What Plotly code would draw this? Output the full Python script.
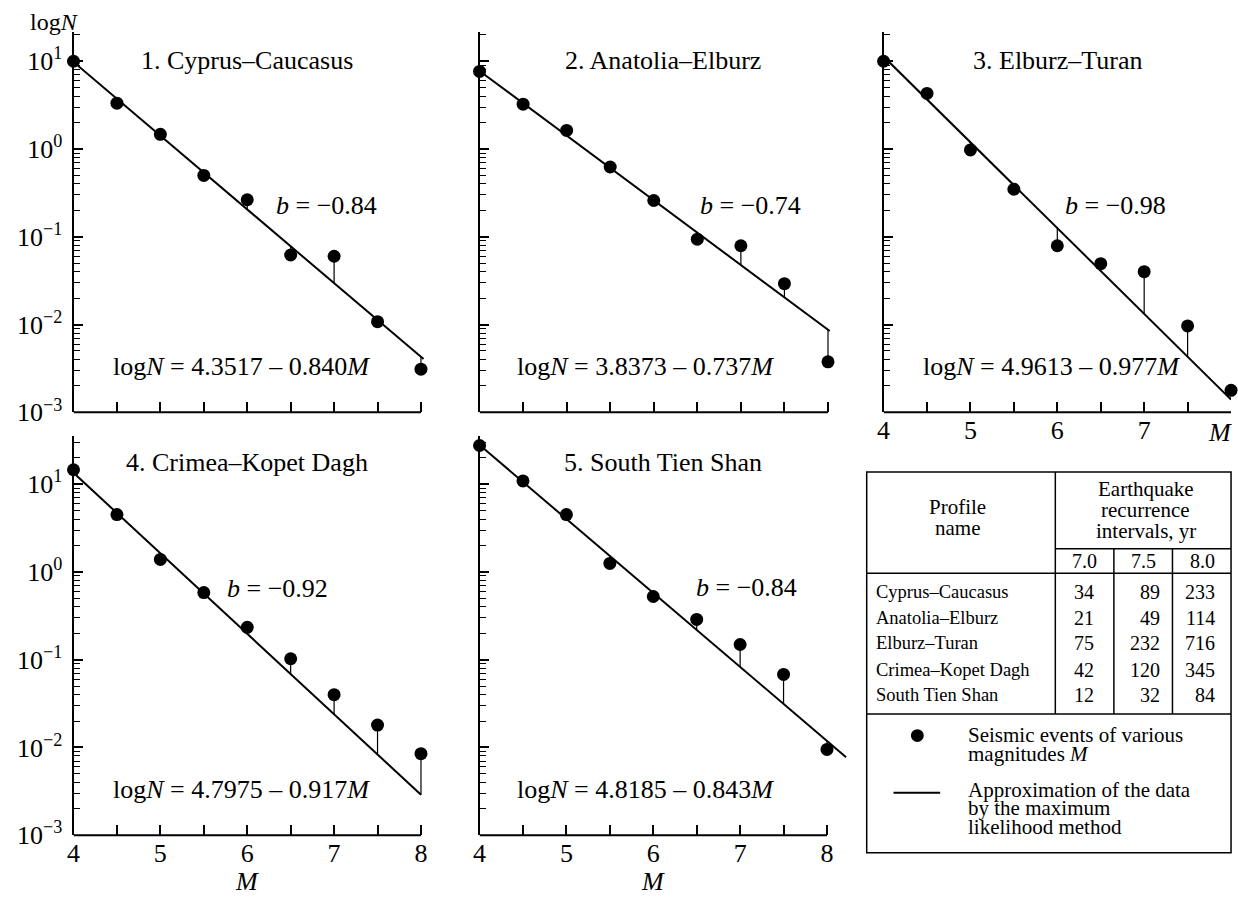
import plotly.graph_objects as go

# ---------------- data ----------------
M = [4.0, 4.5, 5.0, 5.5, 6.0, 6.5, 7.0, 7.5, 8.0]
N_cyprus_caucasus = [10.0, 3.33, 1.47, 0.50, 0.264, 0.062, 0.060, 0.0108, 0.0031]
N_anatolia_elburz = [7.66, 3.24, 1.63, 0.624, 0.259, 0.094, 0.079, 0.0292, 0.00376]
N_elburz_turan = [10.0, 4.3, 0.975, 0.348, 0.079, 0.0494, 0.040, 0.00966, 0.00178]
N_crimea_kopet_dagh = [14.6, 4.5, 1.39, 0.582, 0.234, 0.1026, 0.040, 0.0180, 0.0085]
N_south_tien_shan = [27.6, 10.9, 4.5, 1.25, 0.525, 0.288, 0.149, 0.068, 0.0095]

panel_titles = ["1. Cyprus–Caucasus", "2. Anatolia–Elburz", "3. Elburz–Turan",
                "4. Crimea–Kopet Dagh", "5. South Tien Shan"]
fit_intercept = [4.3517, 3.8373, 4.9613, 4.7975, 4.8185]
fit_slope = [0.840, 0.737, 0.977, 0.917, 0.843]
b_labels = ["−0.84", "−0.74", "−0.98", "−0.92", "−0.84"]
fit_M_end = [8.03, 8.02, 8.0, 8.0, 8.22]

y_tick_vals = [10, 1, 0.1, 0.01, 0.001]
y_tick_text = ["10<sup>1</sup>", "10<sup>0</sup>", "10<sup>−1</sup>", "10<sup>−2</sup>", "10<sup>−3</sup>"]
x_tick_vals = [4, 4.5, 5, 5.5, 6, 6.5, 7, 7.5, 8]

profiles = ["Cyprus–Caucasus", "Anatolia–Elburz", "Elburz–Turan", "Crimea–Kopet Dagh", "South Tien Shan"]
mag_columns = ["7.0", "7.5", "8.0"]
T_70 = [34, 21, 75, 42, 12]
T_75 = [89, 49, 232, 120, 32]
T_80 = [233, 114, 716, 345, 84]

series = [N_cyprus_caucasus, N_anatolia_elburz, N_elburz_turan, N_crimea_kopet_dagh, N_south_tien_shan]

# ---------------- layout helpers ----------------
W, H = 1238, 905
FONT = "Liberation Serif"


def X(px):
    return px / W


def Y(py):
    return 1 - py / H


# panel geometry (pixels): x-left, x-right, range end, y-top, y-bottom, log top
panels = [
    dict(xl=67, xr=67 + 4.05 * 87.5, xend=8.05, yt=32.8, yb=419.3, ytop=1.33),
    dict(xl=476, xr=476 + 4.05 * 87.75, xend=8.05, yt=32.8, yb=419.3, ytop=1.33),
    dict(xl=883, xr=1233, xend=8.0, yt=32.8, yb=419.3, ytop=1.33),
    dict(xl=67, xr=67 + 4.05 * 87.5, xend=8.05, yt=443.7, yb=849.3, ytop=1.545),
    dict(xl=476, xr=476 + 4.23 * 87.5, xend=8.23, yt=443.7, yb=849.3, ytop=1.545),
]

minor_vals = [m * 10 ** e for e in range(-3, 2) for m in range(2, 10)]

fig = go.Figure()
layout = dict(width=W, height=H, margin=dict(l=0, r=0, t=0, b=0),
              paper_bgcolor="white", plot_bgcolor="white", showlegend=False,
              font=dict(family=FONT, size=26, color="black"))
shapes = []
annotations = []

for i, (p, N) in enumerate(zip(panels, series)):
    k = i + 1
    xa = "x" if k == 1 else f"x{k}"
    ya = "y" if k == 1 else f"y{k}"
    a, b = fit_intercept[i], fit_slope[i]
    fit_vals = [10 ** (a - b * m) for m in M]

    # stems from points to fitted line
    sx, sy = [], []
    for m, n, f in zip(M, N, fit_vals):
        sx += [m, m, None]
        sy += [n, f, None]
    fig.add_trace(go.Scatter(x=sx, y=sy, mode="lines", line=dict(color="black", width=1.2),
                             xaxis=xa, yaxis=ya, hoverinfo="skip"))
    # fitted line
    fx = [M[0], fit_M_end[i]]
    fig.add_trace(go.Scatter(x=fx, y=[10 ** (a - b * v) for v in fx], mode="lines",
                             line=dict(color="black", width=2), xaxis=xa, yaxis=ya))
    # points
    fig.add_trace(go.Scatter(x=M, y=N, mode="markers", cliponaxis=False,
                             marker=dict(color="black", size=13, line=dict(width=0)),
                             xaxis=xa, yaxis=ya))

    if k in (4, 5):
        xt = [str(int(v)) if v == int(v) else "" for v in x_tick_vals]
    elif k == 3:
        xt = [str(int(v)) if (v == int(v) and v < 8) else "" for v in x_tick_vals]
    else:
        xt = ["" for v in x_tick_vals]
    xkey = "xaxis" if k == 1 else f"xaxis{k}"
    ykey = "yaxis" if k == 1 else f"yaxis{k}"
    layout[xkey] = dict(domain=[X(p["xl"]), X(p["xr"])], range=[4, p["xend"]], anchor=ya,
                        tickmode="array", tickvals=x_tick_vals, ticktext=xt,
                        ticks="inside", ticklen=10, tickwidth=1.5, tickcolor="black",
                        showline=False, showgrid=False, zeroline=False,
                        tickfont=dict(family=FONT, size=26, color="black"))
    layout[ykey] = dict(domain=[Y(p["yb"]), Y(p["yt"])], type="log", range=[-3, p["ytop"]],
                        anchor=xa, tickmode="array", tickvals=y_tick_vals,
                        ticktext=y_tick_text if k in (1, 4) else ["" for _ in y_tick_vals],
                        ticks="inside", ticklen=9, tickwidth=1.5, tickcolor="black",
                        ticklabelstandoff=4,
                        minor=dict(tickmode="array", tickvals=minor_vals, ticks="inside",
                                   ticklen=6, tickwidth=1.2, tickcolor="black", showgrid=False),
                        showline=True, linewidth=2, linecolor="black",
                        showgrid=False, zeroline=False,
                        tickfont=dict(family=FONT, size=26, color="black"))
    # x-axis line from M=4 to M=8
    shapes.append(dict(type="line", xref=xa, yref=f"{ya} domain", x0=4, x1=8, y0=0, y1=0,
                       line=dict(color="black", width=2)))

# panel texts (pixel positions)
title_pos = [(242, 62), (661, 62), (1058, 62), (242, 470), (661, 470)]
b_pos = [(322, 209), (749, 209), (1117, 209), (272, 598), (745, 597)]
eq_pos = [(236, 373), (643, 373), (1052, 373), (236, 803), (643, 803)]
for i in range(5):
    annotations.append(dict(text=panel_titles[i], x=X(title_pos[i][0]), y=Y(title_pos[i][1]),
                            xref="paper", yref="paper", showarrow=False,
                            xanchor="center", yanchor="middle", font=dict(size=26)))
    annotations.append(dict(text=f"<i>b</i> = {b_labels[i]}", x=X(b_pos[i][0]), y=Y(b_pos[i][1]),
                            xref="paper", yref="paper", showarrow=False,
                            xanchor="center", yanchor="middle", font=dict(size=26)))
    annotations.append(dict(text=f"log<i>N</i> = {fit_intercept[i]:.4f} – {fit_slope[i]:.3f}<i>M</i>",
                            x=X(eq_pos[i][0]), y=Y(eq_pos[i][1]), xref="paper", yref="paper",
                            showarrow=False, xanchor="center", yanchor="middle", font=dict(size=26)))

# axis captions
annotations.append(dict(text="log<i>N</i>", x=X(48), y=Y(22), xref="paper", yref="paper",
                        showarrow=False, xanchor="center", yanchor="middle", font=dict(size=24)))
annotations.append(dict(text="<i>M</i>", x=X(1236), y=Y(440), xref="paper", yref="paper",
                        showarrow=False, xanchor="right", yanchor="middle", font=dict(size=26)))
for cxp in (242, 651):
    annotations.append(dict(text="<i>M</i>", x=X(cxp), y=Y(896), xref="paper", yref="paper",
                            showarrow=False, xanchor="center", yanchor="middle", font=dict(size=26)))

# ---------------- table ----------------
L, R, T, B = 866, 1233, 480, 867
C1, C2, C3 = 1056, 1115, 1174
lw = dict(color="black", width=1.5)


def hline(y, x0, x1):
    shapes.append(dict(type="line", xref="paper", yref="paper", x0=X(x0), x1=X(x1),
                       y0=Y(y), y1=Y(y), line=lw))


def vline(x, y0, y1):
    shapes.append(dict(type="line", xref="paper", yref="paper", x0=X(x), x1=X(x),
                       y0=Y(y0), y1=Y(y1), line=lw))


shapes.append(dict(type="rect", xref="paper", yref="paper", x0=X(L), x1=X(R), y0=Y(B), y1=Y(T),
                   line=lw, fillcolor="rgba(0,0,0,0)"))
vline(C1, T, 726)
hline(558, C1, R)
hline(583, L, R)
vline(C2, 558, 726)
vline(C3, 558, 726)
hline(726, L, R)


def txt(s, x, y, size, anchor="center"):
    annotations.append(dict(text=s, x=X(x), y=Y(y), xref="paper", yref="paper", showarrow=False,
                            xanchor=anchor, yanchor="middle", font=dict(size=size)))


txt("Profile", 957, 516, 21)
txt("name", 957, 537, 21)
txt("Earthquake", 1147, 497, 21)
txt("recurrence", 1147, 519, 21)
txt("intervals, yr", 1147, 540, 21)
for lab, cx in zip(mag_columns, (1085, 1145, 1204)):
    txt(lab, cx, 570, 20)

row_y = [602, 628, 654, 681, 707]
for name, t1, t2, t3, ry in zip(profiles, T_70, T_75, T_80, row_y):
    txt(name, 873, ry, 18.5, "left")
    txt(str(t1), 1085, ry, 20)
    txt(str(t2), 1163, ry, 20, "right")
    txt(str(t3), 1219, ry, 20, "right")

# legend
shapes.append(dict(type="circle", xref="paper", yref="paper", x0=X(917 - 6.5), x1=X(917 + 6.5),
                   y0=Y(748 + 6.5), y1=Y(748 - 6.5), fillcolor="black", line=dict(width=0)))
shapes.append(dict(type="line", xref="paper", yref="paper", x0=X(893), x1=X(940),
                   y0=Y(806), y1=Y(806), line=dict(color="black", width=2)))
txt("Seismic events of various", 966, 747, 21, "left")
txt("magnitudes <i>M</i>", 966, 767, 21, "left")
txt("Approximation of the data", 966, 803, 21, "left")
txt("by the maximum", 966, 822, 21, "left")
txt("likelihood method", 966, 841, 21, "left")

layout["shapes"] = shapes
layout["annotations"] = annotations
fig.update_layout(**layout)
fig.write_html("out.html")
